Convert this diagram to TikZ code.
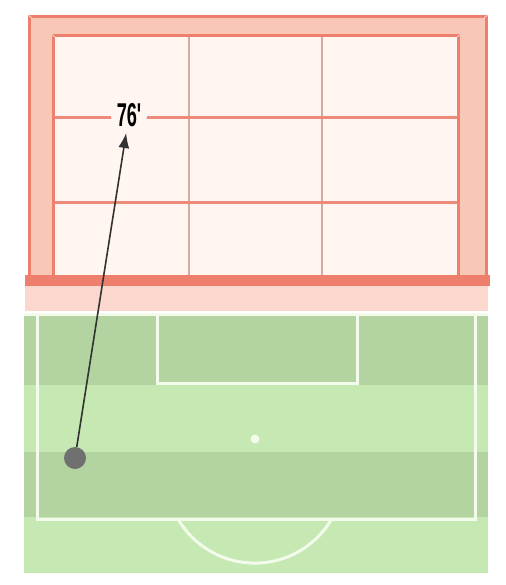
\documentclass[tikz,border=0pt]{standalone}
\usepackage{fontspec}
\newfontfamily\minutefont{Liberation Sans}
\usetikzlibrary{arrows.meta}
\definecolor{postred}{HTML}{EE7F6D}
\definecolor{postfill}{HTML}{F9C7B6}
\definecolor{netbg}{HTML}{FFF5F1}
\definecolor{netline}{HTML}{EC8B7B}
\definecolor{netpost}{HTML}{D8A9A1}
\definecolor{apron}{HTML}{FCD7CD}
\definecolor{grassdark}{HTML}{B3D4A0}
\definecolor{grasslight}{HTML}{C6E8B2}
\definecolor{chalk}{HTML}{F3FBEC}
\definecolor{shotgrey}{HTML}{707070}
\begin{document}
\begin{tikzpicture}[x=1pt,y=-1pt]
    \useasboundingbox[fill=white] (0,0) rectangle (505,585);
    % goal frame and net
    \fill[postfill] (28,15) rectangle (488,285);
    \draw[postred, line width=3pt] (29.5,16.5) rectangle (486.5,283);
    \fill[netbg] (55,37) rectangle (457,275);
    \draw[postred, line width=3pt] (53.5,35.5) rectangle (458.5,276);
    \draw[postred!45, line width=1pt] (28,15) -- (55,37) (488,15) -- (457,37);
    \foreach \x in {189,322}
        \draw[netpost, line width=2.5pt] (\x,37) -- (\x,275);
    \foreach \y in {118,202}
        \draw[netline, line width=3pt] (55,\y) -- (457,\y);
    \fill[postred] (25,275) rectangle (490,286);
    \fill[apron] (25,286) rectangle (488,311);
    % pitch
    \fill[grasslight] (24,315) rectangle (488,573);
    \foreach \a/\b in {315/385,452/517}
        \fill[grassdark] (24,\a) rectangle (488,\b);
    \begin{scope}[chalk, line width=3pt]
        \draw (24,314) -- (488,314);
        \draw (37,314) -- (37,519) -- (475,519) -- (475,314);
        \draw (157,314) -- (157,383) -- (357,383) -- (357,314);
        \fill (255,439) circle (4.5);
        \draw (178,519) arc[start angle=149.7, end angle=30.3, radius=89];
    \end{scope}
    % shot
    \node[circle, fill=shotgrey, minimum size=22pt, inner sep=0pt] (shot) at (75,458) {};
    \node[circle, fill=netbg, minimum size=36pt, inner sep=0pt,
          font=\minutefont\bfseries\fontsize{33}{33}\selectfont] (minute) at (129,115)
        {\scalebox{0.55}[1]{76'}};
    \draw[-{Latex[length=15pt,width=11pt]}, line width=1.6pt, black!80] (shot) -- (minute);
\end{tikzpicture}
\end{document}
